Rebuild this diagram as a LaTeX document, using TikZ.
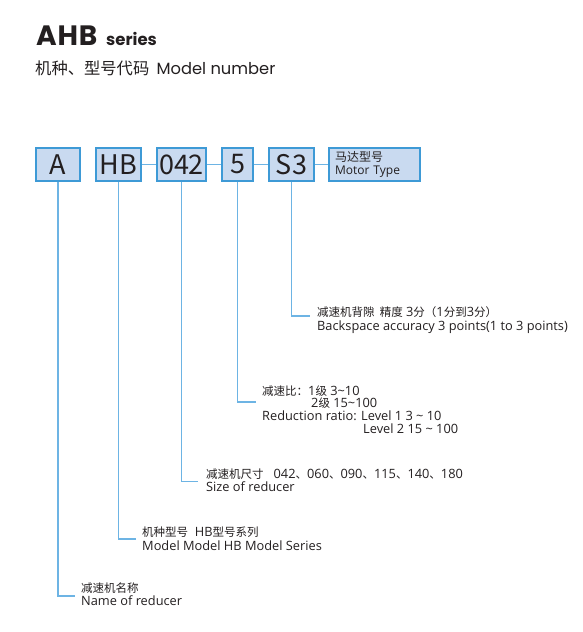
\documentclass[tikz,border=0pt]{standalone}
\usepackage{fontspec}
\setmainfont{Open Sans}
\newfontfamily\titlefont{Poppins}
\newfontfamily\titlewide{Poppins}[LetterSpace=3]
\newfontfamily\cjk{Noto Sans CJK SC}
\newcommand\zh[1]{{\cjk\fontsize{11.5}{13}\selectfont #1}}
\usetikzlibrary{positioning}
\definecolor{boxfill}{RGB}{201,218,240}
\definecolor{boxline}{RGB}{62,154,214}
\definecolor{leadline}{RGB}{109,180,228}
\definecolor{txt}{RGB}{35,31,32}
\def\tl{\textasciitilde}

\begin{document}
\begin{tikzpicture}[x=1pt,y=-1pt,
  codebox/.style={draw=boxline, fill=boxfill, line width=1.4pt, minimum height=33pt,
    inner sep=0pt, text=txt, font=\cjk\fontsize{27}{27}\selectfont},
  lead/.style={leadline, line width=1.4pt},
  desc/.style={anchor=base west, inner sep=0pt, text=txt, font=\fontsize{12.8}{13}\selectfont}]
\useasboundingbox[fill=white] (0,0) rectangle (583,632);

% ----- title -----
\node[anchor=base west, inner sep=0pt, text=txt, font=\titlewide\bfseries\fontsize{28}{28}\selectfont] (ttl) at (36,45) {AHB};
\node[anchor=base west, inner sep=0pt, text=txt, font=\titlefont\bfseries\fontsize{16.5}{17}\selectfont] (ser) at (106,45) {series};
\node[anchor=base west, inner sep=0pt, text=txt, font=\fontsize{16.3}{16}\selectfont] (sub) at (35,74) {\cjk 机种、型号代码\ \ \titlefont Model number};

% ----- code boxes -----
\foreach \nm/\cx/\w/\txt in {a/58/44/A, hb/118.5/45/HB, size/181.5/49/042, ratio/237.5/31/5, back/291.5/45/S3}
  \node[codebox, minimum width=\w pt] (\nm) at (\cx,164.5) {\txt};
\node[codebox, minimum width=91pt, font=\fontsize{12}{13.5}\selectfont, align=left,
  text width=79pt, inner xsep=6pt] (motor) at (374.5,164.5) {{\cjk 马达型号}\\Motor Type};

% links between boxes
\draw[lead] (hb.east) -- (size.west);
\draw[lead] (size.east) -- (ratio.west);
\draw[lead] (ratio.east) -- (back.west);
\draw[lead] (back.east) -- (motor.west);

% ----- leader ends -----
\coordinate (backend) at (310,316);
\coordinate (ratioend) at (256,402);
\coordinate (sizeend) at (198,481.5);
\coordinate (hbend) at (136,539);
\coordinate (aend) at (75,596);

\draw[lead] (back.south) |- (backend);
\draw[lead] (ratio.south) |- (ratioend);
\draw[lead] (size.south) |- (sizeend);
\draw[lead] (hb.south) |- (hbend);
\draw[lead] (a.south) |- (aend);

% ----- descriptions -----
\node[desc] (back1) at (317,316) {\zh{减速机背隙\ \ 精度} 3\zh{分（}1\zh{分到}3\zh{分）}};
\node[desc] (back2) at (317,330) {Backspace accuracy 3 points(1 to 3 points)};

\node[desc] (ratio1) at (262,395) {\zh{减速比：}1\zh{级} 3\tl10};
\node[desc] (ratio2) at (311,407.5) {2\zh{级} 15\tl100};
\node[desc] (ratio3) at (262,420) {Reduction ratio: Level 1 3 \tl\ 10};
\node[desc] (ratio4) at (363,433) {Level 2 15 \tl\ 100};

\node[desc] (size1) at (206,478) {\zh{减速机尺寸}\ \ \ 042\zh{、}060\zh{、}090\zh{、}115\zh{、}140\zh{、}180};
\node[desc] (size2) at (206,491) {Size of reducer};

\node[desc] (hb1) at (142,536.5) {\zh{机种型号}\ \ HB\zh{型号系列}};
\node[desc] (hb2) at (142,550) {Model Model HB Model Series};

\node[desc] (a1) at (81,592.5) {\zh{减速机名称}};
\node[desc] (a2) at (81,605) {Name of reducer};

\end{tikzpicture}
\end{document}
